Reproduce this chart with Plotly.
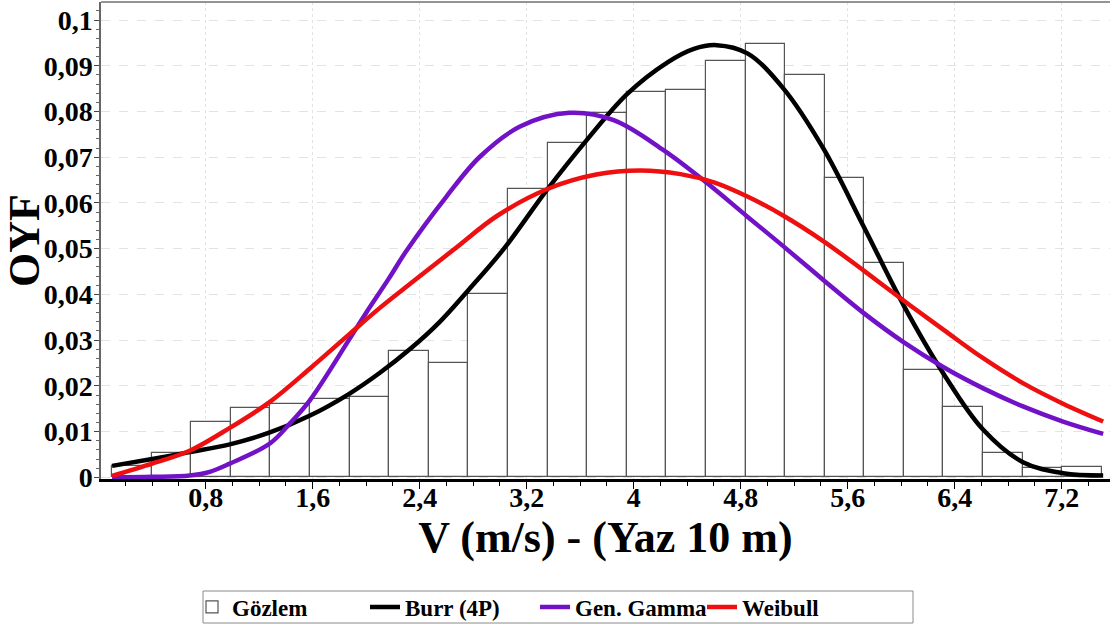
import plotly.graph_objects as go

# ---------------- data ----------------
bin_edges = [0.10, 0.396, 0.692, 0.988, 1.284, 1.58, 1.876, 2.172, 2.468, 2.764,
             3.06, 3.356, 3.652, 3.948, 4.244, 4.54, 4.836, 5.132, 5.428, 5.724,
             6.02, 6.316, 6.612, 6.908, 7.204, 7.50]
observed = [0.0025, 0.0054, 0.0120, 0.0151, 0.0160, 0.0171, 0.0176, 0.0277, 0.0251, 0.0401,
            0.0630, 0.0730, 0.0796, 0.0843, 0.0848, 0.0911, 0.0947, 0.0880, 0.0654, 0.0469,
            0.0235, 0.0154, 0.0054, 0.0020, 0.0023]

burr_x = [0.10, 0.40, 0.68, 0.98, 1.28, 1.58, 1.87, 2.10, 2.33, 2.55, 2.76, 3.03, 3.35,
          3.65, 3.95, 4.25, 4.45, 4.62, 4.85, 5.12, 5.42, 5.72, 6.02, 6.32, 6.61, 6.91,
          7.21, 7.51]
burr_y = [0.0025, 0.0040, 0.0055, 0.0072, 0.0098, 0.0135, 0.0182, 0.0228, 0.0281, 0.0340,
          0.0408, 0.0500, 0.0628, 0.0738, 0.0838, 0.0907, 0.0937, 0.0945, 0.0927, 0.0850,
          0.0718, 0.0548, 0.0375, 0.0225, 0.0105, 0.0033, 0.0009, 0.0004]

gamma_x = [0.10, 0.40, 0.68, 0.83, 0.98, 1.28, 1.43, 1.58, 1.87, 2.00, 2.17, 2.30, 2.60,
           2.85, 3.15, 3.52, 3.85, 4.22, 4.55, 4.85, 5.12, 5.42, 5.72, 6.02, 6.32, 6.61,
           6.91, 7.21, 7.51]
gamma_y = [0.0000, 0.0001, 0.0004, 0.0012, 0.0030, 0.0074, 0.0118, 0.0169, 0.0300, 0.0360,
           0.0435, 0.0495, 0.0614, 0.0701, 0.0767, 0.0797, 0.0781, 0.0716, 0.0643, 0.0570,
           0.0505, 0.0431, 0.0359, 0.0295, 0.0240, 0.0195, 0.0155, 0.0122, 0.0095]

weib_x = [0.10, 0.40, 0.68, 0.98, 1.28, 1.58, 1.87, 2.10, 2.35, 2.65, 2.98, 3.35, 3.72,
          4.05, 4.35, 4.60, 4.85, 5.12, 5.42, 5.72, 6.02, 6.32, 6.61, 6.91, 7.21, 7.51]
weib_y = [0.0003, 0.0030, 0.0058, 0.0108, 0.0165, 0.0238, 0.0312, 0.0370, 0.0428, 0.0497,
          0.0572, 0.0630, 0.0662, 0.0671, 0.0663, 0.0645, 0.0614, 0.0572, 0.0516, 0.0452,
          0.0386, 0.0322, 0.0261, 0.0206, 0.0161, 0.0122]

x_tick_vals = [0.8, 1.6, 2.4, 3.2, 4.0, 4.8, 5.6, 6.4, 7.2]
x_tick_text = ["0,8", "1,6", "2,4", "3,2", "4", "4,8", "5,6", "6,4", "7,2"]
y_tick_vals = [0, 0.01, 0.02, 0.03, 0.04, 0.05, 0.06, 0.07, 0.08, 0.09, 0.1]
y_tick_text = ["0", "0,01", "0,02", "0,03", "0,04", "0,05", "0,06", "0,07", "0,08", "0,09", "0,1"]

series_names = ["Gözlem", "Burr (4P)", "Gen. Gamma", "Weibull"]
x_title = "V (m/s) - (Yaz 10 m)"
y_title = "OYF"

# ---------------- figure ----------------
FONT = "Liberation Serif"
bar_centers = [(a + b) / 2 for a, b in zip(bin_edges[:-1], bin_edges[1:])]
bar_widths = [b - a for a, b in zip(bin_edges[:-1], bin_edges[1:])]

fig = go.Figure()
fig.add_trace(go.Bar(
    x=bar_centers, y=observed, width=bar_widths, name=series_names[0],
    marker=dict(color="white", line=dict(color="#555555", width=1.2)),
    legendwidth=128,
))
curve_specs = [
    (burr_x, burr_y, series_names[1], "#000000", 125),
    (gamma_x, gamma_y, series_names[2], "#7112c7", 122),
    (weib_x, weib_y, series_names[3], "#ee1010", 100),
]
for xs, ys, nm, col, lw in curve_specs:
    fig.add_trace(go.Scatter(
        x=xs, y=ys, name=nm, mode="lines",
        line=dict(color=col, width=4.5, shape="spline", smoothing=1.0),
        legendwidth=lw,
    ))

fig.update_layout(
    width=1110, height=625,
    margin=dict(l=101, r=0, t=2, b=146, autoexpand=False),
    paper_bgcolor="white", plot_bgcolor="white",
    font=dict(family=FONT, color="black"),
    bargap=0,
    showlegend=True,
    legend=dict(
        orientation="h", xref="container", yref="container",
        x=192 / 1110, xanchor="left", y=1 - 607 / 625, yanchor="middle",
        borderwidth=0, bgcolor="rgba(0,0,0,0)",
        font=dict(family=FONT, size=23, weight="bold", color="black"),
    ),
)

fig.update_xaxes(
    automargin=False,
    range=[0.0172, 7.561],
    tickmode="array", tickvals=x_tick_vals, ticktext=x_tick_text,
    ticks="outside", ticklen=7, tickwidth=1, tickcolor="black",
    ticklabelstandoff=-16,
    minor=dict(tickmode="linear", tick0=0, dtick=0.2, ticks="outside",
               ticklen=4, tickcolor="black", showgrid=False),
    tickfont=dict(family=FONT, size=28, weight="bold", color="black"),
    showline=True, linecolor="black", linewidth=3,
    showgrid=True, gridcolor="#e3e3e3", gridwidth=1, griddash="dot",
    zeroline=False,
    title=dict(text=x_title, font=dict(family=FONT, size=44, weight="bold", color="black"),
               standoff=4),
)
fig.update_yaxes(
    automargin=False,
    range=[-0.00037, 0.10394],
    tickmode="array", tickvals=y_tick_vals, ticktext=y_tick_text,
    ticks="outside", ticklen=5, tickwidth=1, tickcolor="#444",
    ticklabelstandoff=-4,
    minor=dict(tickmode="linear", tick0=0, dtick=0.002, ticks="outside",
               ticklen=3, tickcolor="#666", showgrid=False),
    tickfont=dict(family=FONT, size=28, weight="bold", color="black"),
    showline=True, linecolor="#666", linewidth=1.5,
    showgrid=True, gridcolor="#e3e3e3", gridwidth=1, griddash="dash",
    zeroline=False,
    title=dict(text=y_title, font=dict(family=FONT, size=44, weight="bold", color="black"),
               standoff=4),
)
# top frame line of the plot area
fig.add_shape(type="line", xref="paper", yref="paper", x0=0, x1=1, y0=1, y1=1,
              line=dict(color="#707070", width=1.5), layer="above")
# legend frame (plot area spans 101..1110 px horizontally, 2..479 px vertically)
fig.add_shape(type="rect", xref="paper", yref="paper",
              x0=(203 - 101) / 1009, x1=(913 - 101) / 1009,
              y0=(479 - 623) / 477, y1=(479 - 591) / 477,
              line=dict(color="#8a8a8a", width=1), fillcolor="rgba(0,0,0,0)",
              layer="above")

fig.write_html("out.html",
               config={"displayModeBar": False},
               post_script="document.body.style.margin='0';document.body.style.overflow='hidden';")
